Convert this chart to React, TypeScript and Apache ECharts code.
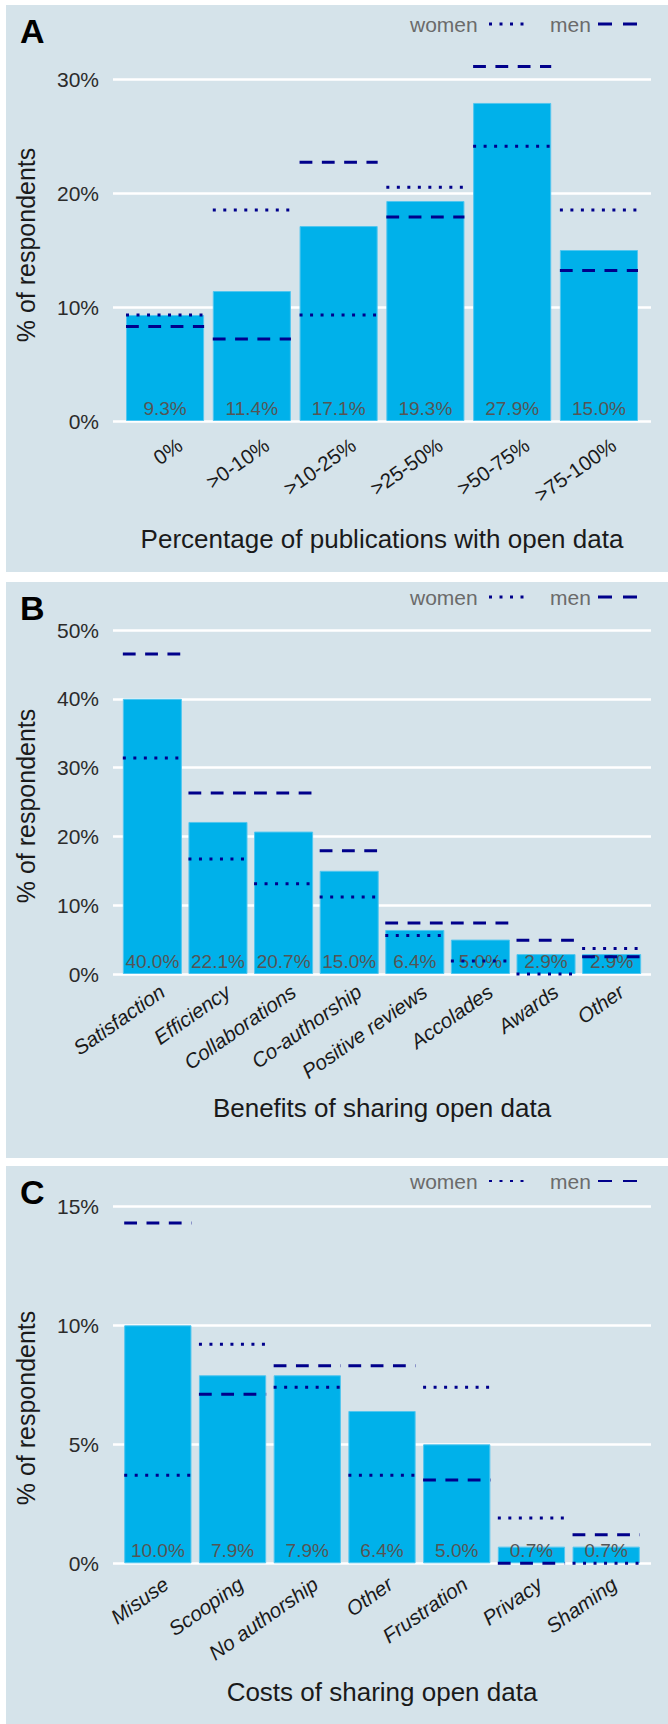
import React, { useEffect, useRef } from 'react';
import * as echarts from 'echarts';

// ---------- data ----------
const catsA = ['0%', '>0-10%', '>10-25%', '>25-50%', '>50-75%', '>75-100%'];
const barsA = [9.3, 11.4, 17.1, 19.3, 27.9, 15.0];
const womenA = [9.3, 18.5, 9.3, 20.5, 24.1, 18.5];
const menA = [8.3, 7.2, 22.7, 17.9, 31.1, 13.2];
const ticksA = [0, 10, 20, 30];

const catsB = ['Satisfaction', 'Efficiency', 'Collaborations', 'Co-authorship', 'Positive reviews', 'Accolades', 'Awards', 'Other'];
const barsB = [40.0, 22.1, 20.7, 15.0, 6.4, 5.0, 2.9, 2.9];
const womenB = [31.4, 16.7, 13.1, 11.2, 5.6, 1.9, 0, 3.7];
const menB = [46.5, 26.3, 26.3, 17.9, 7.4, 7.4, 4.9, 2.5];
const ticksB = [0, 10, 20, 30, 40, 50];

const catsC = ['Misuse', 'Scooping', 'No authorship', 'Other', 'Frustration', 'Privacy', 'Shaming'];
const barsC = [10.0, 7.9, 7.9, 6.4, 5.0, 0.7, 0.7];
const womenC = [3.7, 9.2, 7.4, 3.7, 7.4, 1.9, 0];
const menC = [14.3, 7.1, 8.3, 8.3, 3.5, 0, 1.2];
const ticksC = [0, 5, 10, 15];

const legendWomen = 'women';
const legendMen = 'men';
const yTitle = '% of respondents';

// ---------- styling / layout ----------
const FONT = '"Liberation Sans", Arial, Helvetica, sans-serif';
const NAVY = '#00008B';
const BAR = '#00B1EA';
const BG = '#D5E3EA';
const W = 668;
const H = 1724;
const PLOT_L = 113;
const PLOT_R = 651;

const panels = [
  {
    letter: 'A', cats: catsA, bars: barsA, women: womenA, men: menA, ticks: ticksA, max: 31.5,
    title: 'Percentage of publications with open data',
    zeroY: 421, pxPer: 11.4, italic: false, bgY: 5, bgH: 567,
    legendY: 24, letterY: 31, yTitleY: 245, xTitleY: 539, labelMargin: 32, labelPad: 18, legendW: 3,
  },
  {
    letter: 'B', cats: catsB, bars: barsB, women: womenB, men: menB, ticks: ticksB, max: 51,
    title: 'Benefits of sharing open data',
    zeroY: 974, pxPer: 6.88, italic: true, bgY: 582, bgH: 576,
    legendY: 597, letterY: 608, yTitleY: 806, xTitleY: 1108, labelMargin: 22, labelPad: 12, legendW: 3,
  },
  {
    letter: 'C', cats: catsC, bars: barsC, women: womenC, men: menC, ticks: ticksC, max: 15.5,
    title: 'Costs of sharing open data',
    zeroY: 1563.3, pxPer: 23.8, italic: true, bgY: 1166, bgH: 558,
    legendY: 1181, letterY: 1192, yTitleY: 1408, xTitleY: 1692, labelMargin: 24, labelPad: 10, legendW: 2,
  },
];

function segRenderer(dash: number[], width: number) {
  return (params: any, api: any) => {
    const p = api.coord([api.value(0), api.value(1)]);
    const w = api.size([1, 0])[0] * 0.9;
    return {
      type: 'line',
      shape: { x1: p[0] - w / 2, y1: p[1], x2: p[0] + w / 2, y2: p[1] },
      style: { stroke: NAVY, lineWidth: width, lineDash: dash, fill: null },
    };
  };
}

function buildOption() {
  const grid: any[] = [];
  const xAxis: any[] = [];
  const yAxis: any[] = [];
  const series: any[] = [];
  const graphic: any[] = [];

  panels.forEach((p, k) => {
    const n = p.cats.length;
    const band = (PLOT_R - PLOT_L) / (n + 0.2);
    const top = p.zeroY - p.max * p.pxPer;
    const height = p.max * p.pxPer;
    const interval = p.ticks[1] - p.ticks[0];
    const gOuter = 2 * k;
    const gInner = 2 * k + 1;

    grid.push({ left: PLOT_L, right: W - PLOT_R, top, height });
    grid.push({ left: PLOT_L + 0.1 * band, right: W - PLOT_R + 0.1 * band, top, height });

    xAxis.push({ type: 'value', gridIndex: gOuter, min: 0, max: 1, show: false });
    xAxis.push({
      type: 'category', gridIndex: gInner, data: p.cats,
      axisLine: { show: false }, axisTick: { show: false },
      axisLabel: {
        interval: 0, rotate: 35, margin: p.labelMargin, padding: [0, -p.labelPad, 0, 0],
        fontSize: 20.5, color: '#1a1a1a', fontFamily: FONT, fontStyle: p.italic ? 'italic' : 'normal',
      },
    });

    yAxis.push({
      type: 'value', gridIndex: gOuter, min: 0, max: p.max, interval,
      axisLine: { show: false }, axisTick: { show: false },
      axisLabel: {
        formatter: (v: number) => (p.ticks.indexOf(v) >= 0 ? v + '%' : ''),
        margin: 14, fontSize: 21, color: '#2b2b2b', fontFamily: FONT, showMaxLabel: false,
      },
      splitLine: { show: true, showMaxLine: false, lineStyle: { color: '#ffffff', width: 2.5 } },
    });
    yAxis.push({ type: 'value', gridIndex: gInner, min: 0, max: p.max, show: false, splitLine: { show: false } });

    series.push({
      type: 'bar', xAxisIndex: gInner, yAxisIndex: gInner, data: p.bars,
      barCategoryGap: '10%', z: 2,
      itemStyle: { color: BAR, borderColor: '#52c6ef', borderWidth: 1 },
      label: {
        show: true, position: 'insideBottom', distance: 3,
        formatter: (d: any) => Number(d.value).toFixed(1) + '%',
        color: '#555555', fontSize: 19, fontFamily: FONT,
      },
    });
    series.push({
      type: 'custom', xAxisIndex: gInner, yAxisIndex: gInner, z: 5, silent: true,
      data: p.women.map((v, i) => [i, v]),
      encode: { x: 0, y: 1 },
      renderItem: segRenderer([3, 7.5], 3),
    });
    series.push({
      type: 'custom', xAxisIndex: gInner, yAxisIndex: gInner, z: 5, silent: true,
      data: p.men.map((v, i) => [i, v]),
      encode: { x: 0, y: 1 },
      renderItem: segRenderer([12.8, 9.5], 3),
    });

    // panel background
    graphic.push({ type: 'rect', z: -10, shape: { x: 6, y: p.bgY, width: W - 6, height: p.bgH }, style: { fill: BG } });
    // panel letter
    graphic.push({
      type: 'text', x: 20, y: p.letterY, z: 10,
      style: { text: p.letter, fontSize: 34, fontWeight: 'bold', fontFamily: FONT, fill: '#000', textAlign: 'left', textVerticalAlign: 'middle' },
    });
    // legend
    graphic.push({
      type: 'text', x: 410, y: p.legendY, z: 10,
      style: { text: legendWomen, fontSize: 21, fontFamily: FONT, fill: '#6b6b6b', textAlign: 'left', textVerticalAlign: 'middle' },
    });
    graphic.push({
      type: 'line', z: 10, shape: { x1: 489, y1: p.legendY, x2: 530, y2: p.legendY },
      style: { stroke: NAVY, lineWidth: p.legendW, lineDash: [3, 7.5] },
    });
    graphic.push({
      type: 'text', x: 550, y: p.legendY, z: 10,
      style: { text: legendMen, fontSize: 21, fontFamily: FONT, fill: '#6b6b6b', textAlign: 'left', textVerticalAlign: 'middle' },
    });
    graphic.push({
      type: 'line', z: 10, shape: { x1: 598, y1: p.legendY, x2: 638, y2: p.legendY },
      style: { stroke: NAVY, lineWidth: p.legendW, lineDash: [14, 11] },
    });
    // axis titles
    graphic.push({
      type: 'text', x: 26, y: p.yTitleY, rotation: Math.PI / 2, z: 10,
      style: { text: yTitle, fontSize: 25, fontFamily: FONT, fill: '#1a1a1a', textAlign: 'center', textVerticalAlign: 'middle' },
    });
    graphic.push({
      type: 'text', x: (PLOT_L + PLOT_R) / 2, y: p.xTitleY, z: 10,
      style: { text: p.title, fontSize: 26, fontFamily: FONT, fill: '#1a1a1a', textAlign: 'center', textVerticalAlign: 'middle' },
    });
  });

  return {
    animation: false,
    backgroundColor: '#ffffff',
    textStyle: { fontFamily: FONT },
    grid, xAxis, yAxis, series, graphic,
  };
}

export default function App() {
  const ref = useRef<HTMLDivElement>(null);
  useEffect(() => {
    if (!ref.current) return;
    const chart = echarts.init(ref.current, undefined, { renderer: 'svg' });
    chart.setOption(buildOption() as any);
    return () => chart.dispose();
  }, []);
  return <div ref={ref} style={{ position: 'absolute', left: 0, top: 0, width: W, height: H }} />;
}
